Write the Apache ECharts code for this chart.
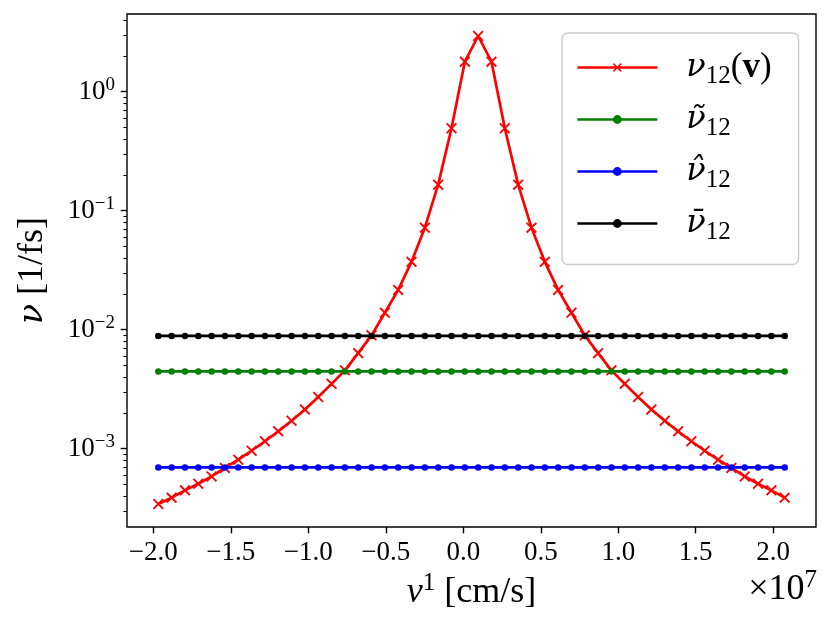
<!DOCTYPE html>
<html>
<head>
<meta charset="utf-8">
<script src="https://cdn.jsdelivr.net/npm/echarts@6.0.0/dist/echarts.min.js"></script>
<style>
	html, body { margin: 0; padding: 0; background: #fff; }
	#chart { width: 831px; height: 630px; }
</style>
</head>
<body>
<div id="chart"></div>
<script>
// v^1 sample points, in units of 1e7 cm/s (the axis carries the x10^7 factor)
var vGrid = [-1.968, -1.882, -1.796, -1.710, -1.624, -1.538, -1.452, -1.366, -1.280, -1.194,
	-1.108, -1.022, -0.936, -0.850, -0.764, -0.678, -0.592, -0.506, -0.420, -0.334,
	-0.248, -0.162, -0.076, 0.010, 0.096, 0.182, 0.268, 0.354, 0.440, 0.526,
	0.612, 0.698, 0.784, 0.870, 0.956, 1.042, 1.128, 1.214, 1.300, 1.386,
	1.472, 1.558, 1.644, 1.730, 1.816, 1.902, 1.988, 2.074];
// nu_12(v) [1/fs]
var nu12v = [3.43e-4, 3.88e-4, 4.47e-4, 5.08e-4, 5.85e-4, 6.90e-4, 8.09e-4, 9.62e-4, 1.156e-3, 1.40e-3,
	1.72e-3, 2.14e-3, 2.72e-3, 3.51e-3, 4.56e-3, 6.36e-3, 8.97e-3, 1.39e-2, 2.16e-2, 3.72e-2,
	7.21e-2, 0.1656, 0.493, 1.79, 2.94, 1.79, 0.493, 0.1656, 7.21e-2, 3.72e-2,
	2.16e-2, 1.39e-2, 8.97e-3, 6.36e-3, 4.56e-3, 3.51e-3, 2.72e-3, 2.14e-3, 1.72e-3, 1.40e-3,
	1.156e-3, 9.62e-4, 8.09e-4, 6.90e-4, 5.85e-4, 5.08e-4, 4.47e-4, 3.88e-4];
// averaged frequencies (constant in v)
var nuTilde = 4.46e-3;
var nuHat = 6.97e-4;
var nuBar = 8.87e-3;

var xTicks = [-2.0, -1.5, -1.0, -0.5, 0.0, 0.5, 1.0, 1.5, 2.0];
var yTicks = [1e-3, 1e-2, 1e-1, 1];
var yMinorTicks = [3e-4, 4e-4, 5e-4, 6e-4, 7e-4, 8e-4, 9e-4,
	2e-3, 3e-3, 4e-3, 5e-3, 6e-3, 7e-3, 8e-3, 9e-3,
	2e-2, 3e-2, 4e-2, 5e-2, 6e-2, 7e-2, 8e-2, 9e-2,
	0.2, 0.3, 0.4, 0.5, 0.6, 0.7, 0.8, 0.9,
	2, 3, 4];

var legendText = {
	nu12v: '{g0|ν}{sub|12}{n|(}{b|v}{n|)}',
	nuTilde: '{g0|ν̃}{sub|12}',
	nuHat: '{g0|ν̂}{sub|12}',
	nuBar: '{g0|ν̄}{sub|12}'
};

var FONT = 'Liberation Serif';
var xMark = 'path://M0,1.2L1.2,0L5,3.8L8.8,0L10,1.2L6.2,5L10,8.8L8.8,10L5,6.2L1.2,10L0,8.8L3.8,5Z';

function pairs(ys) {
	var out = [];
	for (var i = 0; i < vGrid.length; i++) {
		out.push([vGrid[i], ys[i]]);
	}
	return out;
}

function constPairs(level) {
	var out = [];
	for (var i = 0; i < vGrid.length; i++) {
		out.push([vGrid[i], level]);
	}
	return out;
}

function lineSeries(name, data, color, symbol, size) {
	return {
		name: name,
		type: 'line',
		data: data,
		symbol: symbol,
		symbolSize: size,
		showSymbol: true,
		showAllSymbol: true,
		itemStyle: { color: color },
		lineStyle: { color: color, width: 2.7 },
		emphasis: { disabled: true },
		animation: false
	};
}

function powLabel(value) {
	var e = Math.round(Math.log(value) / Math.LN10);
	var s = e < 0 ? '\u2212' + (-e) : String(e);
	return '{b|10}{s|' + s + '}';
}

var myChart = echarts.init(document.getElementById('chart'), null, { renderer: 'canvas' });

var option = {
	backgroundColor: '#fff',
	animation: false,
	grid: {
		left: 127, top: 14, width: 689, height: 513,
		show: true, borderColor: '#000', borderWidth: 1.4,
		backgroundColor: 'transparent',
		containLabel: false,
		outerBoundsMode: 'none'
	},
	xAxis: {
		type: 'value',
		min: -2.170,
		max: 2.276,
		splitLine: { show: false },
		axisLine: { show: false, onZero: false },
		axisTick: {
			show: true, length: 6.3, customValues: xTicks,
			lineStyle: { color: '#000', width: 1.4 }
		},
		axisLabel: {
			customValues: xTicks,
			margin: 12,
			color: '#000',
			fontFamily: FONT,
			fontSize: 27,
			formatter: function(v) { return v.toFixed(1).replace('-', '\u2212'); }
		},
		name: '{it|v}{sup|1}{n| [cm/s]}',
		nameLocation: 'middle',
		nameGap: 44,
		nameTextStyle: {
			color: '#000',
			fontFamily: FONT,
			fontSize: 36,
			rich: {
				it: { fontFamily: FONT, fontStyle: 'italic', fontSize: 36, lineHeight: 44, color: '#000' },
				sup: { fontFamily: FONT, fontSize: 25, lineHeight: 30, verticalAlign: 'top', color: '#000' },
				n: { fontFamily: FONT, fontSize: 36, lineHeight: 44, color: '#000' }
			}
		}
	},
	yAxis: [{
		type: 'log',
		position: 'left',
		min: 2.2e-4,
		max: 4.5,
		splitLine: { show: false },
		axisLine: { show: false, onZero: false },
		axisTick: {
			show: true, length: 6.3, customValues: yTicks,
			lineStyle: { color: '#000', width: 1.4 }
		},
		axisLabel: {
			customValues: yTicks,
			margin: 12,
			formatter: powLabel,
			rich: {
				b: { fontFamily: FONT, fontSize: 27, lineHeight: 32, color: '#000' },
				s: { fontFamily: FONT, fontSize: 19, lineHeight: 17, verticalAlign: 'top', color: '#000' }
			}
		},
		name: '{it|ν}{n| [1/fs]}',
		nameLocation: 'middle',
		nameRotate: 90,
		nameGap: 74,
		nameTextStyle: {
			color: '#000',
			fontFamily: FONT,
			fontSize: 36,
			rich: {
				it: { fontFamily: 'DejaVu Serif', fontStyle: 'italic', fontSize: 33, lineHeight: 40, color: '#000' },
				n: { fontFamily: FONT, fontSize: 36, lineHeight: 40, color: '#000' }
			}
		}
	}, {
		// minor ticks only
		type: 'log',
		position: 'left',
		min: 2.2e-4,
		max: 4.5,
		splitLine: { show: false },
		axisLine: { show: false, onZero: false },
		axisLabel: { show: false },
		axisTick: {
			show: true, length: 3.6, customValues: yMinorTicks,
			lineStyle: { color: '#000', width: 1.1 }
		}
	}],
	legend: {
		orient: 'vertical',
		left: 562,
		top: 33,
		itemWidth: 80,
		itemHeight: 11,
		itemGap: 15,
		padding: [17, 27, 20, 14],
		backgroundColor: 'rgba(255,255,255,0.8)',
		borderColor: '#cccccc',
		borderWidth: 1.4,
		borderRadius: 6,
		selectedMode: false,
		lineStyle: { width: 2.7 },
		data: ['nu12v', 'nuTilde', 'nuHat', 'nuBar'],
		formatter: function(name) { return legendText[name]; },
		textStyle: {
			color: '#000',
			fontFamily: FONT,
			fontSize: 34,
			rich: {
				g0: { fontFamily: 'DejaVu Serif', fontStyle: 'italic', fontSize: 32, lineHeight: 42, padding: [0, 0, 0, 24], color: '#000' },
				sub: { fontFamily: FONT, fontSize: 25, lineHeight: 32, verticalAlign: 'bottom', color: '#000' },
				n: { fontFamily: FONT, fontSize: 35, lineHeight: 42, color: '#000' },
				b: { fontFamily: FONT, fontWeight: 'bold', fontSize: 35, lineHeight: 42, color: '#000' }
			}
		}
	},
	graphic: [{
		type: 'text',
		right: 14,
		top: 568,
		style: {
			text: '{n|×10}{sup|7}',
			fill: '#000',
			rich: {
				n: { fontFamily: FONT, fontSize: 36, lineHeight: 44, fill: '#000' },
				sup: { fontFamily: FONT, fontSize: 25, lineHeight: 30, verticalAlign: 'top', fill: '#000' }
			}
		}
	}],
	series: [
		lineSeries('nu12v', pairs(nu12v), '#ff0000', xMark, 11),
		lineSeries('nuTilde', constPairs(nuTilde), '#008000', 'circle', 6.5),
		lineSeries('nuHat', constPairs(nuHat), '#0000ff', 'circle', 6.5),
		lineSeries('nuBar', constPairs(nuBar), '#000000', 'circle', 6.5)
	]
};

myChart.setOption(option);
</script>
</body>
</html>
